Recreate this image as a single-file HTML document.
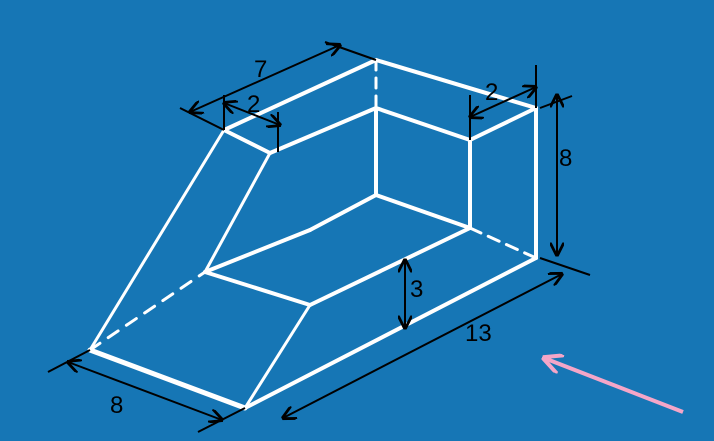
<!DOCTYPE html>
<html><head><meta charset="utf-8"><style>
html,body{margin:0;padding:0;background:#1676b5;}
svg{display:block;}
text{font-family:"Liberation Sans",sans-serif;font-size:24px;fill:#000;}
</style></head><body>
<svg width="714" height="441" viewBox="0 0 714 441">
<defs>
<marker id="ar" viewBox="0 0 10 10" refX="9" refY="5" markerWidth="7" markerHeight="7" orient="auto-start-reverse"><path d="M0,0 L10,5 L0,10" fill="none" stroke="#000" stroke-width="2"/></marker>
<marker id="pk" viewBox="0 0 10 10" refX="9" refY="5" markerWidth="5" markerHeight="5" orient="auto"><path d="M0,0 L10,5 L0,10" fill="none" stroke="#f4a6c8" stroke-width="2"/></marker>
</defs>
<rect width="714" height="441" fill="#1676b5"/>
<g stroke="#fff" stroke-width="4" fill="none" stroke-linecap="round">
<line x1="224" y1="130" x2="376" y2="60"/>
<line x1="376" y1="60" x2="536" y2="108"/>
<line x1="536" y1="108" x2="536" y2="258"/>
<line x1="470" y1="140" x2="536" y2="108"/>
<line x1="470" y1="140" x2="470" y2="228"/>
<line x1="270" y1="153" x2="376" y2="108"/>
<line x1="376" y1="108" x2="470" y2="140"/>
<line x1="376" y1="108" x2="376" y2="195"/>
<line x1="376" y1="195" x2="470" y2="228"/>
<line x1="376" y1="195" x2="310" y2="230"/>
<line x1="310" y1="230" x2="205" y2="272"/>
<line x1="224" y1="130" x2="270" y2="153"/>
<line x1="270" y1="153" x2="205" y2="272" stroke-width="3"/>
<line x1="224" y1="130" x2="90" y2="350" stroke-width="3"/>
<line x1="205" y1="272" x2="310" y2="305"/>
<line x1="310" y1="305" x2="470" y2="228"/>
<line x1="245" y1="408" x2="536" y2="258"/>
<line x1="310" y1="305" x2="245" y2="408" stroke-width="3"/>
<line x1="90" y1="350" x2="245" y2="408" stroke-width="5"/>
<line x1="90" y1="350" x2="205" y2="272" stroke-dasharray="12,10" stroke-width="3"/>
<line x1="376" y1="60" x2="376" y2="108" stroke-dasharray="10,8" stroke-width="3"/>
<line x1="470" y1="228" x2="536" y2="258" stroke-dasharray="12,8" stroke-width="3"/>
</g>
<g stroke="#000" stroke-width="2" fill="none">
<line x1="180" y1="108" x2="224" y2="130"/>
<line x1="325" y1="42" x2="376" y2="60"/>
<line x1="190" y1="112" x2="340" y2="45" marker-start="url(#ar)" marker-end="url(#ar)"/>
<line x1="224" y1="95" x2="224" y2="130"/>
<line x1="278" y1="112" x2="278" y2="152"/>
<line x1="224" y1="103" x2="280" y2="125" marker-start="url(#ar)" marker-end="url(#ar)"/>
<line x1="470" y1="95" x2="470" y2="140"/>
<line x1="536" y1="65" x2="536" y2="108"/>
<line x1="470" y1="117" x2="536" y2="87" marker-start="url(#ar)" marker-end="url(#ar)"/>
<line x1="540" y1="108" x2="572" y2="96"/>
<line x1="540" y1="258" x2="590" y2="275"/>
<line x1="557" y1="95" x2="557" y2="255" marker-start="url(#ar)" marker-end="url(#ar)"/>
<line x1="405" y1="260" x2="405" y2="328" marker-start="url(#ar)" marker-end="url(#ar)"/>
<line x1="283" y1="418" x2="562" y2="274" marker-start="url(#ar)" marker-end="url(#ar)"/>
<line x1="245" y1="408" x2="198" y2="432"/>
<line x1="48" y1="372" x2="90" y2="350"/>
<line x1="68" y1="362" x2="222" y2="420" marker-start="url(#ar)" marker-end="url(#ar)"/>
</g>
<text x="254" y="77">7</text>
<text x="247" y="112" font-size="20">2</text>
<text x="485" y="100" font-size="20">2</text>
<text x="559" y="166">8</text>
<text x="410" y="297">3</text>
<text x="465" y="341">13</text>
<text x="110" y="413">8</text>
<line x1="683" y1="412" x2="544" y2="358" stroke="#f4a6c8" stroke-width="4" marker-end="url(#pk)"/>
</svg>
</body></html>
